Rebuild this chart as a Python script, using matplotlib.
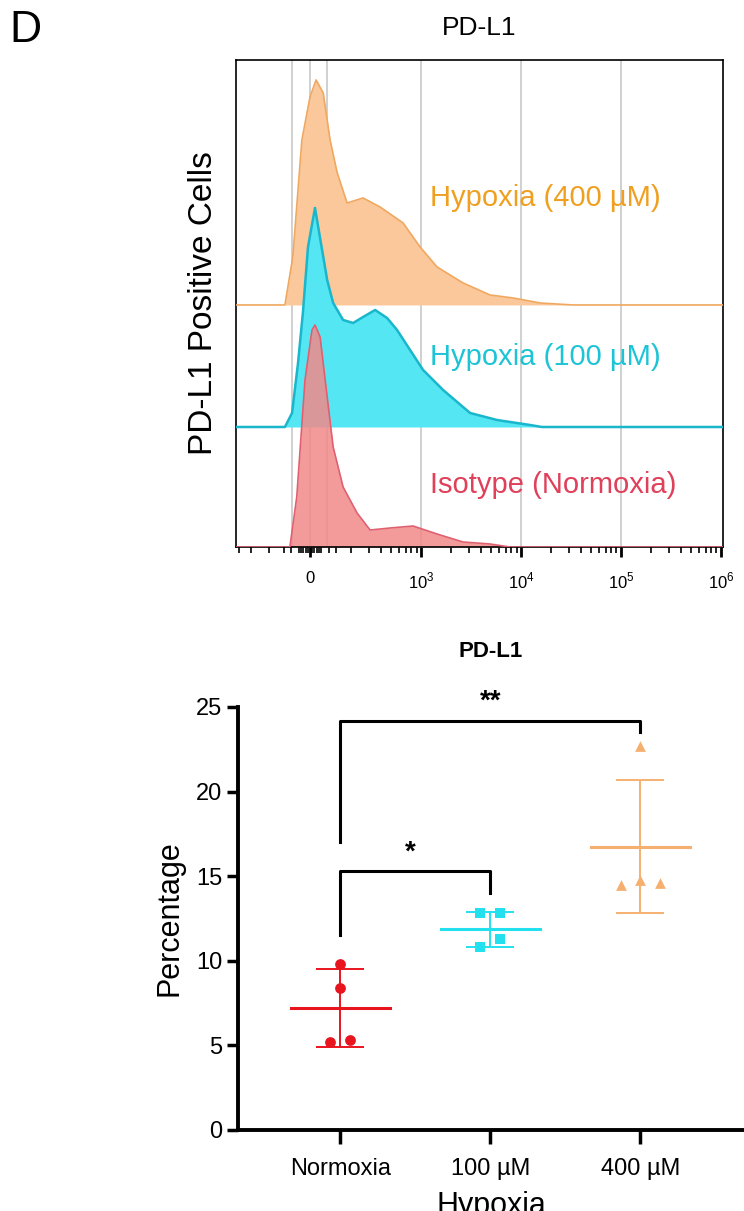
import numpy as np
import matplotlib
matplotlib.use("Agg")
import matplotlib.pyplot as plt

plt.rcParams['font.family'] = ['Liberation Sans', 'DejaVu Sans']
plt.rcParams['mathtext.fontset'] = 'custom'
plt.rcParams['mathtext.rm'] = 'Liberation Sans'

# ---- histogram data (fluorescence, relative count) ----
red_x = [-123, -105, -45, 18, 45, 91, 115, 132, 166, 229, 309, 490, 832, 1445, 2630, 4900, 7760]
red_h = [0, 50, 167, 217, 222, 210, 150, 100, 60, 34, 17, 19, 21, 13, 5, 3, 0]
cyan_x = [-138, -117, -102, -64, -18, 45, 115, 132, 166, 209, 263, 347, 457, 575, 776, 1047, 1660, 3090, 5750, 12300, 16200]
cyan_h = [0, 14, 64, 114, 180, 219, 147, 124, 107, 104, 110, 117, 109, 97, 77, 57, 37, 14, 7, 2, 0]
orange_x = [-138, -115, -73, 0, 55, 105, 123, 145, 182, 263, 389, 661, 977, 1445, 2630, 4900, 8320, 15500, 33100]
orange_h = [0, 48, 165, 208, 225, 212, 165, 132, 102, 107, 98, 82, 58, 38, 22, 10, 7, 2, 0]
hist_labels = ["Isotype (Normoxia)", "Hypoxia (100 µM)", "Hypoxia (400 µM)"]
gridlines_x = [-117, 0, 115, 1e3, 1e4, 1e5]

# ---- scatter data ----
groups = ["Normoxia", "100 µM", "400 µM"]
norm_vals = [9.8, 8.4, 5.2, 5.3]
h100_vals = [12.8, 12.8, 11.3, 10.8]
h400_vals = [22.7, 14.5, 14.8, 14.6]
means = [7.2, 11.85, 16.75]
sds = [2.3, 1.05, 3.95]

fig = plt.figure(figsize=(7.44, 12.11), dpi=100)

# ===== Top: histogram =====
ax = fig.add_axes([0.317, 0.5483, 0.655, 0.4022])
ax.set_xscale('symlog', linthresh=100, linscale=0.1)
xmin, xmax = -427, 1.05e6
ax.set_xlim(xmin, xmax)
ax.set_ylim(0, 487)
for g in gridlines_x:
    ax.axvline(g, color='#c8c8c8', lw=1.2, zorder=0)

specs = [
    (orange_x, orange_h, 242, '#FAC89A', '#F0A860', 1.0, '#EFA020'),
    (cyan_x, cyan_h, 120, '#55E6F4', '#19B6CC', 1.0, '#1CC4D6'),
    (red_x, red_h, 0, '#F28A8A', '#E06070', 0.85, '#E0405A'),
]
ypos = [349, 190, 62]
for (xs, hs, base, fc, lc, al, tc), lab, yp in zip(specs, hist_labels[::-1], ypos):
    xx = np.concatenate([[xmin], xs, [xmax]])
    hh = np.concatenate([[0], hs, [0]])
    ax.fill_between(xx, base, base + hh, color=fc, alpha=al, lw=0, zorder=2)
    ax.plot(xx, base + hh, color=lc, lw=1.8 if base == 120 else 1.2, zorder=3)
    ax.text(1230, yp, lab, color=tc, fontsize=21, va='center', ha='left', zorder=4)

ax.set_yticks([])
ax.set_xticks([0, 1e3, 1e4, 1e5, 1e6])
ax.set_xticklabels(['0', '$10^3$', '$10^4$', '$10^5$', '$10^6$'], fontsize=12)
minor = [-400, -300, -200] + list(range(-140, 141, 20)) + \
    [m * 10 ** e for e in range(2, 6) for m in range(2, 10)]
ax.set_xticks(minor, minor=True)
ax.tick_params(axis='x', which='major', length=7, width=2, direction='out', pad=10)
ax.tick_params(axis='x', which='minor', length=4, width=1.2, direction='out')
for s in ax.spines.values():
    s.set_linewidth(1.2)
ax.set_ylabel("PD-L1 Positive Cells", fontsize=24, labelpad=12)
ax.set_title("PD-L1", fontsize=19, pad=18)
fig.text(0.012, 0.975, "D", fontsize=32, va='center')

# ===== Bottom: scatter =====
bx = fig.add_axes([0.320, 0.0669, 0.68, 0.3493])
bx.set_xlim(-0.68, 2.69)
bx.set_ylim(0, 25)
cols = ['#E8141E', '#22E0EE', '#F5B070']
markers = ['o', 's', '^']
offsets = [[0, 0, -0.066, 0.066], [-0.066, 0.066, 0.066, -0.066], [0, -0.13, 0, 0.13]]
for i, (vals, c, m) in enumerate(zip([norm_vals, h100_vals, h400_vals], cols, markers)):
    xs = [i + o for o in offsets[i]]
    bx.scatter(xs, vals, color=c, marker=m, s=60, zorder=3, lw=0)
    bx.plot([i - 0.33, i + 0.33], [means[i], means[i]], color=c, lw=2.2, zorder=2)
    bx.errorbar([i], [means[i]], yerr=[sds[i]], color=c, capsize=17, lw=1.4,
                capthick=1.4, fmt='none', zorder=2)

# significance brackets
bx.plot([0, 0, 2, 2], [17.0, 24.2, 24.2, 23.5], color='black', lw=2.2, clip_on=False)
bx.text(1.0, 25.3, "**", ha='center', va='center', fontsize=20, fontweight='bold')
bx.plot([0, 0, 1, 1], [11.5, 15.3, 15.3, 14.0], color='black', lw=2.2, clip_on=False)
bx.text(0.47, 16.4, "*", ha='center', va='center', fontsize=20, fontweight='bold')

for s in ['top', 'right']:
    bx.spines[s].set_visible(False)
for s in ['left', 'bottom']:
    bx.spines[s].set_linewidth(2.8)
bx.set_xticks([0, 1, 2])
bx.set_xticklabels(groups, fontsize=17)
bx.set_yticks([0, 5, 10, 15, 20, 25])
bx.tick_params(axis='y', labelsize=17, width=2.5, length=8)
bx.tick_params(axis='x', width=2.5, length=10, pad=10)
bx.set_ylabel("Percentage", fontsize=22, labelpad=8)
bx.set_xlabel("Hypoxia", fontsize=22, labelpad=8)
bx.set_title("PD-L1", fontsize=16, fontweight='bold', pad=36)

fig.savefig("out.png", dpi=100)
